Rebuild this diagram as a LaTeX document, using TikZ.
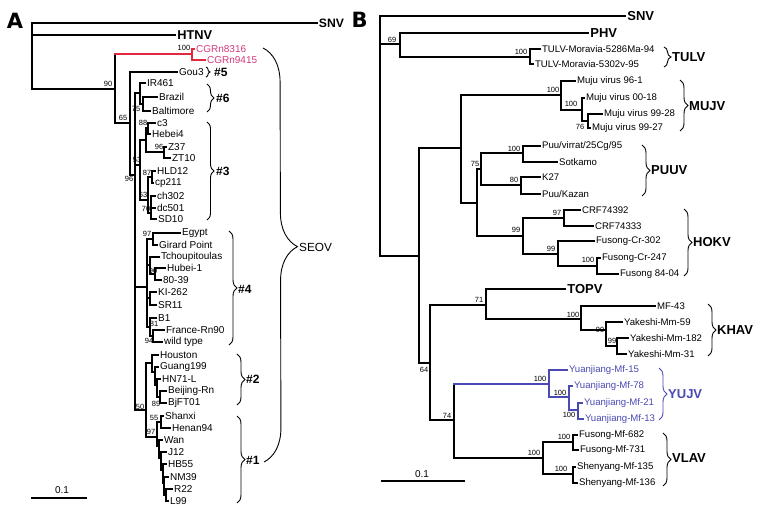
\documentclass[tikz,border=0pt]{standalone}
\usepackage{fontspec}
\setmainfont{Liberation Sans}
\newfontfamily\heavyfont{DejaVu Sans}
\usetikzlibrary{decorations.pathreplacing}
\definecolor{cgline}{RGB}{226,40,62}
\definecolor{cgtext}{RGB}{212,58,128}
\definecolor{yublue}{RGB}{74,74,180}
\newcounter{lfcnt}
\tikzset{
 tree/.style={line width=1.8pt, line cap=rect},
 leafA/.style={font=\fontsize{10}{12}\selectfont, inner sep=1.2pt, anchor=west},
 leafB/.style={font=\fontsize{9.6}{11}\selectfont, inner sep=1.2pt, anchor=west},
 bsl/.style={font=\fontsize{7.5}{9}\selectfont, inner sep=0pt},
 brc/.style={line width=0.9pt, decorate},
 clade/.style={font=\bfseries\fontsize{13}{15}\selectfont, anchor=west, inner sep=1pt},
 cladeA/.style={font=\bfseries\fontsize{12}{14}\selectfont, anchor=west, inner sep=1pt},
 panel/.style={font=\heavyfont\bfseries\fontsize{21}{23}\selectfont, inner sep=0pt},
}
\newcommand{\Vl}[3]{\draw[tree] (#1,#2) -- (#1,#3);}
\newcommand{\Hl}[3]{\draw[tree] (#2,#1) -- (#3,#1);}
\newcommand{\LfA}[4]{\stepcounter{lfcnt}\draw[tree] (#1,#3) -- (#2,#3) node[leafA] (lf\thelfcnt) {#4};}
\newcommand{\LfB}[4]{\stepcounter{lfcnt}\draw[tree] (#1,#3) -- (#2,#3) node[leafB] (lf\thelfcnt) {#4};}
\newcommand{\Bs}[3]{\stepcounter{lfcnt}\node[bsl] (bs\thelfcnt) at (#1,#2) {#3};}
\newcommand{\Brc}[4]{\draw[brc,decoration={brace,amplitude=#4pt}] (#1,#2) -- (#1,#3);}
\begin{document}
\begin{tikzpicture}[x=1pt,y=-1pt]
\useasboundingbox (0,0) rectangle (768,521);
\fill[white] (0,0) rectangle (768,521);
% ================= PANEL A =================
\node[panel] (labA) at (15,20.5) {A};
\Vl{32}{23}{89}
\draw[tree] (32,23) -- (317,23) node[font=\bfseries\fontsize{12.2}{14}\selectfont,anchor=west,inner sep=1pt] (snvA) {SNV};
\draw[tree] (32,35) -- (175,35) node[font=\bfseries\fontsize{12.8}{14}\selectfont,anchor=west,inner sep=1.5pt] (htnv) {HTNV};
\Hl{89}{32}{115} \Bs{108}{84}{90}
\Vl{115}{54}{123}
% red clade
\begin{scope}[cgline]
\draw[tree] (115,54) -- (192,54);
\draw[tree] (192,49) -- (192,60);
\draw[tree] (192,49) -- (194,49) node[leafA,text=cgtext] (cg1) {CGRn8316};
\draw[tree] (192,60) -- (205,60) node[leafA,text=cgtext] (cg2) {CGRn9415};
\end{scope}
\Bs{184}{48}{100}
\Hl{123}{115}{130} \Bs{123}{118}{65}
\Vl{130}{72}{175}
\LfA{130}{177}{72}{Gou3}
\Hl{175}{130}{135} \Bs{129}{179}{96}
\Vl{135}{93}{410}
% clade 6
\Hl{93}{135}{140}
\Vl{140}{83}{104}
\LfA{140}{145}{83}{IR461}
\Hl{104}{140}{143}
\Vl{143}{97}{111}
\LfA{143}{157}{97}{Brazil}
\LfA{143}{150}{111}{Baltimore}
\Bs{136}{109}{75}
% clade 3
\Hl{165}{135}{140} \Bs{137}{160}{53}
\Vl{140}{140}{200}
\Hl{140}{140}{146}
\Vl{146}{128}{152}
\Hl{128}{146}{148}
\Vl{148}{123}{134}
\LfA{148}{155}{123}{c3}
\LfA{148}{150}{134}{Hebei4}
\Bs{143}{123}{88}
\Hl{152}{146}{164}
\Vl{164}{147}{158}
\LfA{164}{166}{147}{Z37}
\LfA{164}{170}{158}{ZT10}
\Bs{159}{147}{96}
\Hl{200}{140}{148}
\Vl{148}{177}{213}
\Hl{177}{148}{152}
\Vl{152}{171}{183}
\LfA{152}{155}{171}{HLD12}
\LfA{152}{153}{183}{cp211}
\Bs{147}{173}{87}
\Hl{213}{148}{151}
\Vl{151}{196}{219}
\LfA{151}{155}{196}{ch302}
\LfA{151}{155}{208}{dc501}
\LfA{151}{156}{219}{SD10}
\Bs{143}{195}{63}
\Bs{146}{209}{70}
% clade 4
\Hl{287}{135}{147}
\Vl{147}{239}{327}
\Hl{239}{147}{153}
\Vl{153}{233}{245}
\LfA{153}{180}{233}{Egypt}
\LfA{153}{157}{245}{Girard Point}
\Bs{147}{234}{97}
\Hl{265}{147}{150}
\Vl{150}{257}{274}
\LfA{150}{159}{257}{Tchoupitoulas}
\Hl{274}{150}{155}
\Vl{155}{268}{280}
\LfA{155}{165}{268}{Hubei-1}
\LfA{155}{161}{280}{80-39}
\Bs{153}{271}{90}
\Hl{298}{147}{150}
\Vl{150}{292}{305}
\LfA{150}{156}{292}{KI-262}
\LfA{150}{156}{305}{SR11}
\Hl{327}{147}{150}
\Vl{150}{318}{336}
\LfA{150}{156}{318}{B1}
\Hl{336}{150}{153}
\Vl{153}{330}{342}
\LfA{153}{164}{330}{France-Rn90}
\LfA{153}{162}{342}{wild type}
\Bs{154}{324}{81}
\Bs{149}{341}{94}
% node 50
\Hl{410}{135}{146} \Bs{140}{407}{50}
\Vl{146}{363}{437}
% clade 2
\Hl{363}{146}{152}
\Vl{152}{355}{372}
\LfA{152}{158}{355}{Houston}
\Hl{372}{152}{155}
\Vl{155}{367}{385}
\LfA{155}{158}{367}{Guang199}
\Hl{385}{155}{157}
\Vl{157}{379}{397}
\LfA{157}{160}{379}{HN71-L}
\Hl{397}{157}{160}
\Vl{160}{391}{403}
\LfA{160}{166}{391}{Beijing-Rn}
\LfA{160}{166}{403}{BjFT01}
\Bs{156}{404}{89}
% clade 1
\Hl{437}{146}{157} \Bs{151}{432}{97}
\Vl{157}{422}{446}
\Hl{422}{157}{161}
\Vl{161}{416}{428}
\LfA{161}{163}{416}{Shanxi}
\LfA{161}{170}{428}{Henan94}
\Bs{154}{418}{55}
\Hl{446}{157}{159}
\Vl{159}{440}{458}
\LfA{159}{162}{440}{Wan}
\Hl{458}{159}{161}
\Vl{161}{452}{470}
\LfA{161}{166}{452}{J12}
\Hl{470}{161}{163}
\Vl{163}{464}{483}
\LfA{163}{166}{464}{HB55}
\Hl{483}{163}{164}
\Vl{164}{477}{495}
\LfA{164}{168}{477}{NM39}
\Hl{495}{164}{166}
\Vl{166}{489}{501}
\LfA{166}{172}{489}{R22}
\LfA{166}{168}{501}{L99}
% braces A
\Brc{206}{67}{77}{4}  \node[cladeA] (c5) at (213,72) {\#5};
\Brc{207}{84}{112}{7} \node[cladeA] (c6) at (215,98) {\#6};
\Brc{207}{122}{220}{7} \node[cladeA] (c3) at (215,171) {\#3};
\Brc{229}{231}{345}{8} \node[cladeA] (c4) at (237,289) {\#4};
\Brc{237}{354}{405}{8} \node[cladeA] (c2) at (245,379) {\#2};
\Brc{237}{416}{503}{8} \node[cladeA] (c1) at (245,460) {\#1};
\draw[brc,decoration={brace,amplitude=34pt,aspect=0.48}] (263,48) -- (264,462);
\node[font=\fontsize{11.8}{14}\selectfont,anchor=west,inner sep=1pt] (seov) at (298,247) {SEOV};
% scale A
\draw[line width=1.8pt] (31,498) -- (87,498);
\node[font=\fontsize{10}{12}\selectfont] (scA) at (62,490) {0.1};
% ================= PANEL B =================
\node[panel] (labB) at (359.5,19.5) {B};
\Vl{380}{16}{256}
\draw[tree] (380,16) -- (625,16) node[clade,inner sep=1.5pt] (snvB) {SNV};
\Hl{44}{380}{400} \Bs{392}{40}{69}
\Vl{400}{33}{57}
\draw[tree] (400,33) -- (588,33) node[clade,inner sep=1.5pt] (phv) {PHV};
\Hl{57}{400}{530} \Bs{521}{52}{100}
\Vl{530}{49}{64}
\LfB{530}{540}{49}{TULV-Moravia-5286Ma-94}
\LfB{530}{533}{64}{TULV-Moravia-5302v-95}
\Hl{256}{380}{419}
\Vl{419}{148}{363}
\Hl{148}{419}{461}
\Vl{461}{95}{203}
% MUJV
\Hl{95}{461}{561} \Bs{553}{90}{100}
\Vl{561}{81}{110}
\LfB{561}{575}{81}{Muju virus 96-1}
\Hl{110}{561}{582} \Bs{571}{104}{100}
\Vl{582}{98}{121}
\LfB{582}{584}{98}{Muju virus 00-18}
\Hl{121}{582}{588} \Bs{580}{127}{76}
\Vl{588}{114}{128}
\LfB{588}{602}{114}{Muju virus 99-28}
\LfB{588}{590}{128}{Muju virus 99-27}
% PUUV
\Hl{203}{461}{477}
\Vl{477}{169}{236}
\Hl{169}{477}{481} \Bs{475}{164}{75}
\Vl{481}{153}{185}
\Hl{153}{481}{523} \Bs{514}{149}{100}
\Vl{523}{146}{162}
\LfB{523}{540}{146}{Puu/virrat/25Cg/95}
\LfB{523}{557}{162}{Sotkamo}
\Hl{185}{481}{521} \Bs{514}{180}{80}
\Vl{521}{177}{194}
\LfB{521}{540}{177}{K27}
\LfB{521}{540}{194}{Puu/Kazan}
% HOKV
\Hl{236}{477}{523} \Bs{516}{230}{99}
\Vl{523}{218}{254}
\Hl{218}{523}{564} \Bs{557}{213}{97}
\Vl{564}{210}{226}
\LfB{564}{580}{210}{CRF74392}
\LfB{564}{593}{226}{CRF74333}
\Hl{254}{523}{558} \Bs{551}{249}{99}
\Vl{558}{241}{266}
\LfB{558}{594}{241}{Fusong-Cr-302}
\Hl{266}{558}{597} \Bs{588}{260}{100}
\Vl{597}{258}{274}
\LfB{597}{600}{258}{Fusong-Cr-247}
\LfB{597}{618}{274}{Fusong 84-04}
% lower
\Hl{363}{419}{430} \Bs{424}{370}{64}
\Vl{430}{305}{420}
\Hl{305}{430}{486} \Bs{479}{300}{71}
\Vl{486}{289}{319}
\draw[tree] (486,289) -- (565,289) node[clade,inner sep=1.5pt] (topv) {TOPV};
% KHAV
\Hl{319}{486}{581} \Bs{573}{315}{100}
\Vl{581}{306}{330}
\LfB{581}{655}{306}{MF-43}
\Hl{330}{581}{606} \Bs{600}{330}{99}
\Vl{606}{322}{346}
\LfB{606}{622}{322}{Yakeshi-Mm-59}
\Hl{346}{606}{617} \Bs{612}{341}{99}
\Vl{617}{338}{354}
\LfB{617}{628}{338}{Yakeshi-Mm-182}
\LfB{617}{626}{354}{Yakeshi-Mm-31}
% node 74
\Hl{420}{430}{454} \Bs{447}{416}{74}
\Vl{454}{384}{458}
% YUJV (blue)
\begin{scope}[yublue]
\Hl{384}{454}{549}
\Vl{549}{370}{397}
\LfB{549}{567}{370}{Yuanjiang-Mf-15}
\Hl{397}{549}{569}
\Vl{569}{386}{410}
\LfB{569}{572}{386}{Yuanjiang-Mf-78}
\Hl{410}{569}{578}
\Vl{578}{403}{419}
\LfB{578}{582}{403}{Yuanjiang-Mf-21}
\LfB{578}{583}{419}{Yuanjiang-Mf-13}
\end{scope}
\Bs{540}{379}{100}
\Bs{560}{393}{100}
\Bs{569}{415}{100}
% VLAV
\Hl{458}{454}{543} \Bs{534}{453}{100}
\Vl{543}{442}{474}
\Hl{442}{543}{573} \Bs{564}{437}{100}
\Vl{573}{435}{450}
\LfB{573}{577}{435}{Fusong-Mf-682}
\LfB{573}{578}{450}{Fusong-Mf-731}
\Hl{474}{543}{573} \Bs{561}{469}{100}
\Vl{573}{467}{483}
\LfB{573}{575}{467}{Shenyang-Mf-135}
\LfB{573}{577}{483}{Shenyang-Mf-136}
% braces B
\Brc{664}{47}{67}{7}   \node[clade] (tulv) at (671,57) {TULV};
\Brc{680}{80}{131}{8}  \node[clade] (mujv) at (688,106) {MUJV};
\Brc{642}{145}{196}{8} \node[clade] (puuv) at (650,170) {PUUV};
\Brc{684}{209}{276}{8} \node[clade] (hokv) at (692,242) {HOKV};
\Brc{708}{304}{356}{8} \node[clade] (khav) at (716,330) {KHAV};
\draw[brc,yublue,decoration={brace,amplitude=8pt}] (659,368) -- (659,420);
\node[clade,text=yublue] (yujv) at (667,394) {YUJV};
\Brc{663}{433}{486}{8} \node[clade] (vlav) at (671,458) {VLAV};
% scale B
\draw[line width=1.8pt] (381,481) -- (465,481);
\node[font=\fontsize{10}{12}\selectfont] (scB) at (422,474) {0.1};
\end{tikzpicture}
\end{document}
